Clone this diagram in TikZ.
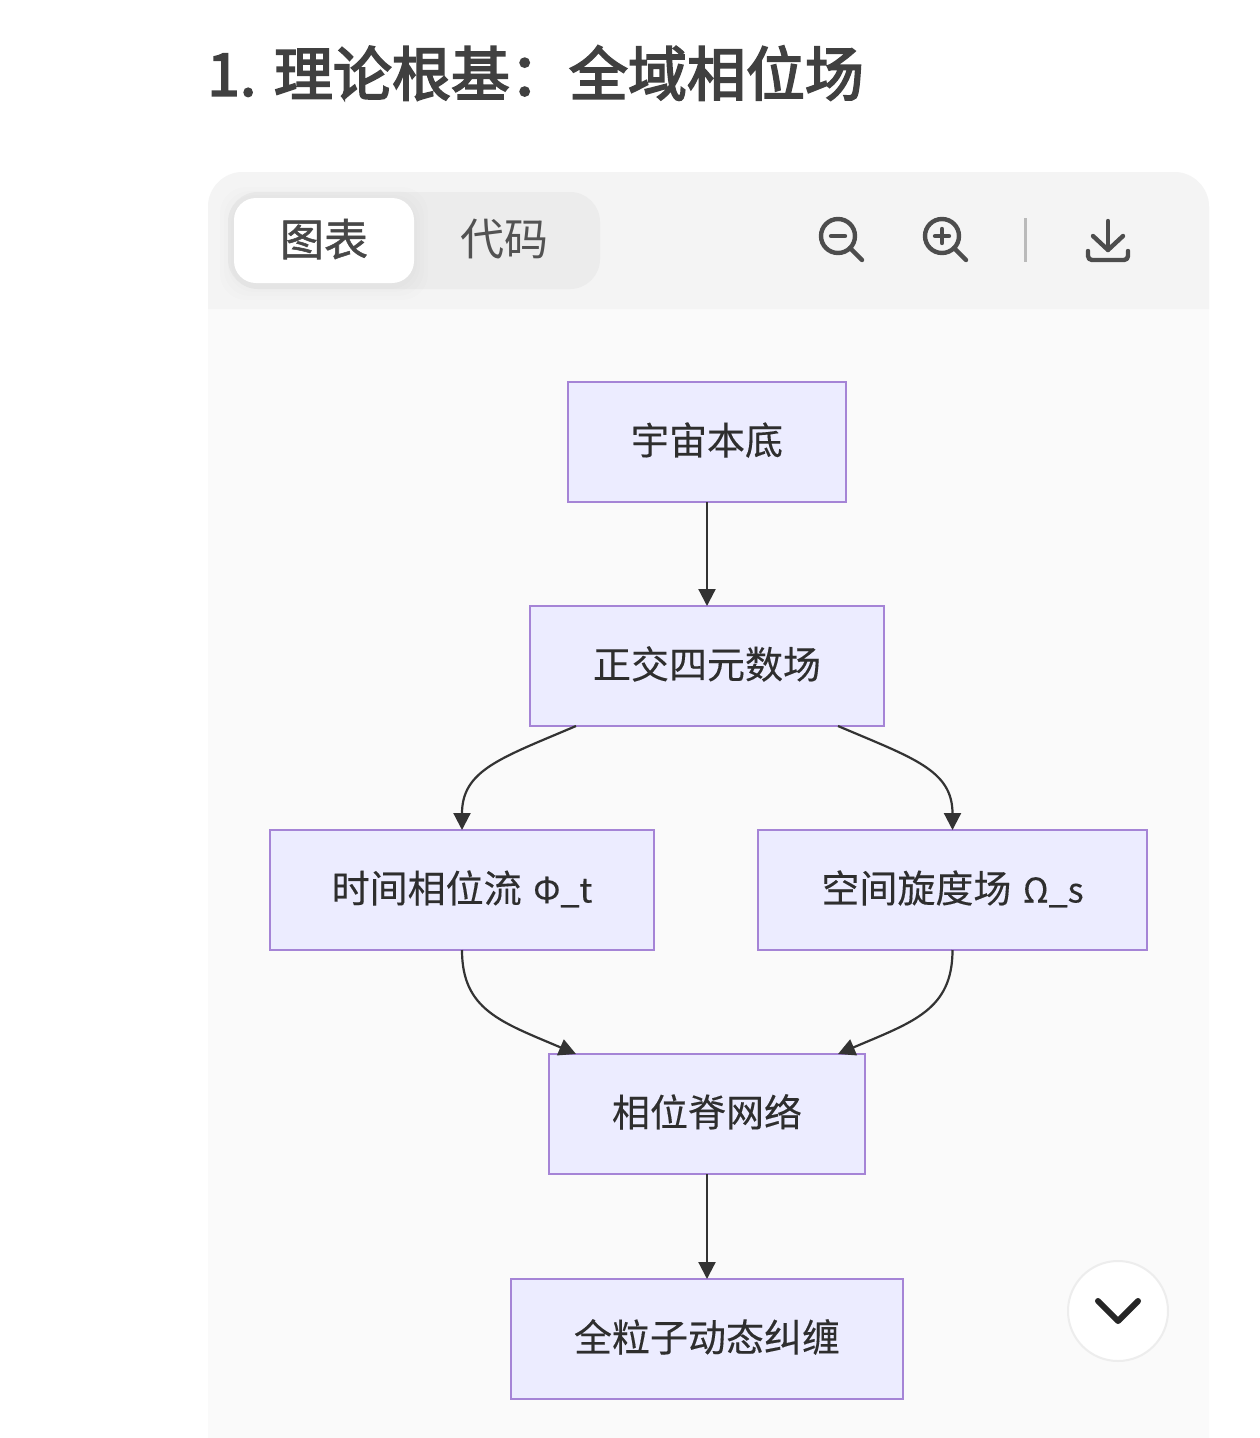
\documentclass[tikz,border=0pt]{standalone}
\usepackage{fontspec}
\setmainfont{Noto Sans CJK SC}
\newfontfamily\titlefont[FakeBold=3]{Noto Sans CJK SC}
\newfontfamily\tabfont[FakeBold=1.2]{Noto Sans CJK SC}
\newfontfamily\boxfont[FakeBold=0.25]{Noto Sans CJK SC}
\newcommand{\symtext}[1]{\hspace{3pt}{\fontsize{34}{44}\selectfont #1}}
\usetikzlibrary{arrows.meta}

\definecolor{boxfill}{HTML}{ECECFF}
\definecolor{boxline}{HTML}{A584D6}
\definecolor{edgeink}{HTML}{333333}
\definecolor{iconink}{HTML}{4D4D4D}
\definecolor{headbg}{HTML}{F4F4F4}
\definecolor{bodybg}{HTML}{FAFAFA}
\definecolor{tabbg}{HTML}{ECECEC}

\begin{document}
\begin{tikzpicture}[
    x=1pt, y=-1pt,
    flowbox/.style={rectangle, draw=boxline, fill=boxfill, line width=2.6pt, outer sep=0pt, inner sep=0pt, text height=33pt, text depth=8pt, text=black!82, font=\boxfont\fontsize{38}{44}\selectfont},
    edge/.style={-{Triangle[length=17pt, width=17pt]}, draw=edgeink, line width=2.2pt},
    tabtext/.style={inner sep=0pt, font=\fontsize{44}{52}\selectfont},
    icon/.style={draw=iconink, line width=4.4pt, line cap=round, line join=round}
]
\useasboundingbox (0,0) rectangle (1260,1438);
\fill[white] (0,0) rectangle (1260,1438);

% Title
\node[anchor=west, inner sep=0pt, text=black!75, font=\titlefont\fontsize{59}{70}\selectfont] (title) at (207,73) {1. 理论根基：全域相位场};

% Card
\fill[bodybg, rounded corners=35pt] (208,1438) -- (208,172) -- (1209,172) -- (1209,1438);
\fill[headbg, rounded corners=35pt] (208,309) -- (208,172) -- (1209,172) -- (1209,309);

% Tabs
\fill[tabbg, rounded corners=30pt] (228,192) rectangle (600,289);
\foreach \s in {14,10,6,3}
    \fill[black, opacity=0.008, rounded corners=26pt] (234-\s,198-\s+3) rectangle (414+\s,283+\s+3);
\fill[white, rounded corners=22pt] (234,198) rectangle (414,283);
\node[tabtext, text=black!72] (tabchart) at (324,239) {\tabfont 图表};
\node[tabtext, text=black!68] (tabcode) at (504,239) {代码};

% Toolbar icons
\draw[icon] (838,236) circle (17);
\draw[icon] (850,248) -- (862,260);
\draw[icon] (831,236) -- (845,236);
\draw[icon] (942,236) circle (17);
\draw[icon] (954,248) -- (966,260);
\draw[icon] (935,236) -- (949,236);
\draw[icon] (942,229) -- (942,243);
\draw[draw=black!27, line width=3pt] (1025,218) -- (1025,262);
\draw[icon] (1108,221) -- (1108,250);
\draw[icon] (1093,236) -- (1108,250) -- (1123,236);
\draw[icon, rounded corners=4pt] (1088,251) -- (1088,260) -- (1128,260) -- (1128,251);

% Flow boxes
\node[flowbox, minimum width=278pt, minimum height=120pt] (base) at (707,442) {宇宙本底};
\node[flowbox, minimum width=354pt, minimum height=120pt] (quat) at (707,666) {正交四元数场};
\node[flowbox, minimum width=384pt, minimum height=120pt] (time) at (462,890) {时间相位流 \symtext{Φ\_t}};
\node[flowbox, minimum width=389pt, minimum height=120pt] (space) at (952.5,890) {空间旋度场 \symtext{Ω\_s}};
\node[flowbox, minimum width=316pt, minimum height=120pt] (ridge) at (707,1114) {相位脊网络};
\node[flowbox, minimum width=392pt, minimum height=120pt] (tangle) at (707,1339) {全粒子动态纠缠};

% Arrows
\draw[edge] (base) -- (quat);
\draw[edge] ([xshift=-131pt]quat.south) .. controls +(-75,32) and +(0,-60) .. (time.north);
\draw[edge] ([xshift=131pt]quat.south) .. controls +(75,32) and +(0,-60) .. (space.north);
\draw[edge] (time.south) .. controls +(0,60) and +(-75,-32) .. ([xshift=-131pt]ridge.north);
\draw[edge] (space.south) .. controls +(0,60) and +(75,-32) .. ([xshift=131pt]ridge.north);
\draw[edge] (ridge) -- (tangle);

% Scroll button
\node[circle, draw=black!7, fill=white, line width=2pt, minimum size=100pt, inner sep=0pt] (scrollbtn) at (1118,1311) {};
\draw[draw=black!85, line width=6pt, line cap=round, line join=round] (1098,1301) -- (1118,1321) -- (1138,1301);

\end{tikzpicture}
\end{document}
